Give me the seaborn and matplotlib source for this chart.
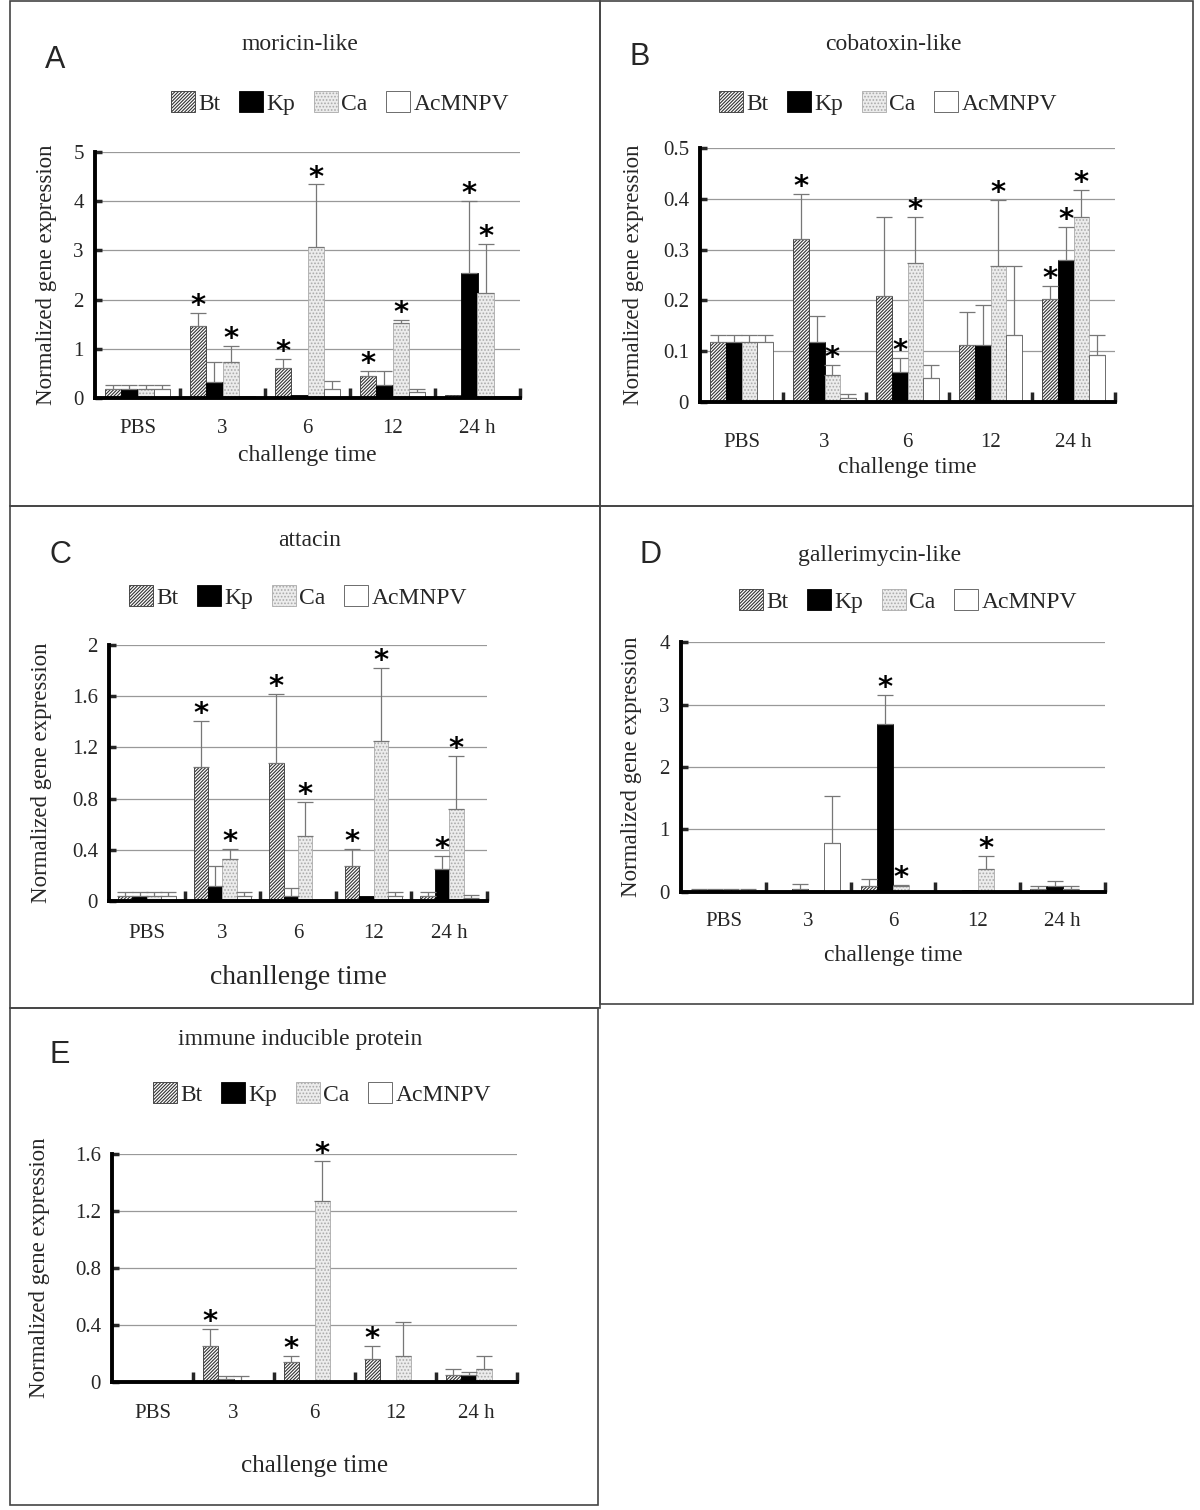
import numpy as np
import pandas as pd
import matplotlib.pyplot as plt
import seaborn as sns
from matplotlib.patches import Patch, Rectangle
from matplotlib.ticker import FuncFormatter

# kategorie i grupy
times = ['PBS', '3', '6', '12', '24 h']
groups = ['Bt', 'Kp', 'Ca', 'AcMNPV']

# A: moricin-like (wiersze: Bt, Kp, Ca, AcMNPV)
moricin_mean = [[0.19, 1.46, 0.60, 0.45, 0.06],
                [0.19, 0.33, 0.06, 0.26, 2.54],
                [0.19, 0.73, 3.06, 1.53, 2.13],
                [0.19, 0.05, 0.19, 0.12, 0.05]]
moricin_sd = [[0.08, 0.27, 0.20, 0.09, 0.0],
              [0.08, 0.40, 0.0, 0.28, 1.46],
              [0.08, 0.33, 1.28, 0.06, 1.01],
              [0.08, 0.0, 0.15, 0.07, 0.0]]
moricin_star = [[0, 1, 1, 1, 0], [0, 0, 0, 0, 1], [0, 1, 1, 1, 1], [0, 0, 0, 0, 0]]

# B: cobatoxin-like
cobatoxin_mean = [[0.118, 0.32, 0.209, 0.112, 0.203],
                  [0.118, 0.119, 0.06, 0.112, 0.28],
                  [0.118, 0.053, 0.274, 0.267, 0.364],
                  [0.118, 0.008, 0.047, 0.131, 0.093]]
cobatoxin_sd = [[0.013, 0.09, 0.155, 0.065, 0.026],
                [0.013, 0.05, 0.026, 0.078, 0.064],
                [0.013, 0.02, 0.09, 0.13, 0.053],
                [0.013, 0.008, 0.026, 0.136, 0.038]]
cobatoxin_star = [[0, 1, 0, 0, 1], [0, 0, 1, 0, 1], [0, 1, 1, 1, 1], [0, 0, 0, 0, 0]]

# C: attacin
attacin_mean = [[0.042, 1.05, 1.077, 0.276, 0.042],
                [0.042, 0.12, 0.042, 0.04, 0.25],
                [0.042, 0.33, 0.51, 1.25, 0.715],
                [0.042, 0.042, 0.01, 0.042, 0.02]]
attacin_sd = [[0.031, 0.36, 0.54, 0.134, 0.031],
              [0.031, 0.156, 0.058, 0.0, 0.105],
              [0.031, 0.08, 0.26, 0.57, 0.415],
              [0.031, 0.031, 0.0, 0.031, 0.027]]
attacin_star = [[0, 1, 1, 1, 0], [0, 0, 0, 0, 1], [0, 1, 1, 1, 1], [0, 0, 0, 0, 0]]

# D: gallerimycin-like
galler_mean = [[0.02, 0.0, 0.1, 0.0, 0.05],
               [0.03, 0.04, 2.69, 0.03, 0.1],
               [0.02, 0.03, 0.1, 0.37, 0.05],
               [0.02, 0.79, 0.0, 0.0, 0.0]]
galler_sd = [[0.02, 0.0, 0.11, 0.0, 0.05],
             [0.01, 0.08, 0.47, 0.0, 0.07],
             [0.02, 0.0, 0.01, 0.21, 0.05],
             [0.02, 0.74, 0.0, 0.0, 0.0]]
galler_star = [[0, 0, 0, 0, 0], [0, 0, 1, 0, 0], [0, 0, 1, 1, 0], [0, 0, 0, 0, 0]]

# E: immune inducible protein
iip_mean = [[0.0, 0.253, 0.14, 0.16, 0.047],
            [0.0, 0.023, 0.0, 0.0, 0.047],
            [0.0, 0.0, 1.27, 0.185, 0.09],
            [0.0, 0.0, 0.0, 0.0, 0.0]]
iip_sd = [[0.0, 0.117, 0.045, 0.09, 0.043],
          [0.0, 0.019, 0.0, 0.0, 0.023],
          [0.0, 0.042, 0.28, 0.235, 0.095],
          [0.0, 0.0, 0.0, 0.0, 0.0]]
iip_star = [[0, 1, 1, 1, 0], [0, 0, 0, 0, 0], [0, 0, 1, 0, 0], [0, 0, 0, 0, 0]]

sns.set_style('white')
plt.rcParams['font.family'] = ['Liberation Serif', 'DejaVu Serif']
plt.rcParams['hatch.linewidth'] = 0.8

W, H = 1200, 1510
fig = plt.figure(figsize=(12, 15.1), dpi=100)

# wygląd słupków
styles = {
    'Bt': dict(facecolor='white', edgecolor='#333333', hatch='//////////'),
    'Kp': dict(facecolor='black', edgecolor='black', hatch=None),
    'Ca': dict(facecolor='#ececec', edgecolor='#aaaaaa', hatch='.....'),
    'AcMNPV': dict(facecolor='white', edgecolor='#555555', hatch=None),
}


def fx(px):
    return px / W


def fy(py):
    return 1 - py / H


def panel(box, means, sds, stars, ymax, ystep, title, letter, title_xy, letter_xy,
          legend_xy, ylab_x, xlab, xlab_y, tick_pad=15, xlab_fs=17):
    x0, y0, x1, y1 = box
    ax = fig.add_axes([fx(x0), fy(y1), fx(x1 - x0), (y1 - y0) / H])
    rows = []
    for g, vals in zip(groups, means):
        for t, v in zip(times, vals):
            rows.append({'time': t, 'group': g, 'value': v})
    df = pd.DataFrame(rows)
    sns.barplot(data=df, x='time', y='value', hue='group', order=times, hue_order=groups,
                errorbar=None, width=0.76, ax=ax, legend=False, linewidth=0.6)
    bar_conts = list(ax.containers)
    for gi, cont in enumerate(bar_conts):
        st = styles[groups[gi]]
        xs = []
        for p in cont:
            p.set_facecolor(st['facecolor'])
            p.set_edgecolor(st['edgecolor'])
            if st['hatch']:
                p.set_hatch(st['hatch'])
            xs.append(p.get_x() + p.get_width() / 2)
        xs = np.array(xs)
        m = np.array(means[gi])
        s = np.array(sds[gi])
        mask = s > 0
        ax.errorbar(xs[mask], m[mask], yerr=[np.zeros(mask.sum()), s[mask]], fmt='none',
                    ecolor='#777777', elinewidth=0.9, capsize=6, capthick=0.9, zorder=1)
        for xi, mi, si, flag in zip(xs, m, s, stars[gi]):
            if flag:
                ax.annotate('*', (xi, mi + si), xytext=(0, 5), textcoords='offset points',
                            ha='center', va='center', fontsize=21, fontweight='bold',
                            fontfamily='DejaVu Sans', color='black')
    ax.set_xlim(-0.5, 4.5)
    ax.set_ylim(0, ymax)
    ax.set_yticks(np.arange(0, ymax + ystep / 2, ystep))
    ax.yaxis.set_major_formatter(FuncFormatter(lambda v, p: '%g' % round(v, 2)))
    ax.yaxis.grid(True, color='#999999', linewidth=0.9)
    ax.set_axisbelow(True)
    ax.set_xticks([0.5, 1.5, 2.5, 3.5, 4.5], minor=True)
    ax.tick_params(axis='x', which='minor', length=7, width=2.5, direction='in', bottom=True)
    ax.tick_params(axis='x', which='major', length=0, labelsize=15, pad=tick_pad)
    ax.tick_params(axis='y', which='major', length=5, width=2.5, direction='in', left=True,
                   labelsize=15, pad=8)
    for side in ['top', 'right']:
        ax.spines[side].set_visible(False)
    for side in ['left', 'bottom']:
        ax.spines[side].set_color('black')
        ax.spines[side].set_linewidth(2.8)
    ax.set_xlabel('')
    ax.set_ylabel('')
    fig.text(fx(ylab_x), fy((y0 + y1) / 2), 'Normalized gene expression', rotation=90,
             ha='center', va='center', fontsize=16.5)
    fig.text(fx((x0 + x1) / 2), fy(xlab_y), xlab, ha='center', va='center', fontsize=xlab_fs)
    fig.text(fx(title_xy[0]), fy(title_xy[1]), title, ha='center', va='center', fontsize=17)
    fig.text(fx(letter_xy[0]), fy(letter_xy[1]), letter, ha='center', va='center',
             fontsize=22, fontfamily='Liberation Sans')
    handles = [Patch(facecolor=styles[g]['facecolor'], edgecolor=styles[g]['edgecolor'],
                     hatch=styles[g]['hatch'], linewidth=0.6) for g in groups]
    fig.legend(handles, groups, loc='center', bbox_to_anchor=(fx(legend_xy[0]), fy(legend_xy[1])),
               ncol=4, frameon=False, fontsize=17, handlelength=1.0, handleheight=1.0,
               handletextpad=0.15, columnspacing=0.8, borderpad=0)
    return ax


panel((95, 152, 520, 398), moricin_mean, moricin_sd, moricin_star, 5, 1,
      'moricin-like', 'A', (300, 45), (55, 60), (340, 103), 47, 'challenge time', 455,
      tick_pad=15)
panel((700, 148, 1115, 402), cobatoxin_mean, cobatoxin_sd, cobatoxin_star, 0.5, 0.1,
      'cobatoxin-like', 'B', (893, 45), (640, 57), (888, 103), 633, 'challenge time', 468,
      tick_pad=22.5)
panel((109, 645, 487, 901), attacin_mean, attacin_sd, attacin_star, 2, 0.4,
      'attacin', 'C', (310, 540), (60, 555), (298, 597), 42, 'chanllenge time', 977,
      tick_pad=16.5, xlab_fs=20)
panel((681, 642, 1105, 892), galler_mean, galler_sd, galler_star, 4, 1,
      'gallerimycin-like', 'D', (880, 555), (650, 555), (908, 601), 632, 'challenge time', 955,
      tick_pad=14.5)
panel((112, 1154, 517, 1382), iip_mean, iip_sd, iip_star, 1.6, 0.4,
      'immune inducible protein', 'E', (300, 1040), (60, 1055), (322, 1094), 40,
      'challenge time', 1466, tick_pad=15.5, xlab_fs=18)

# ramki paneli
for (x0, y0, x1, y1) in [(10, 1, 600, 506), (600, 1, 1193, 506), (10, 506, 600, 1008),
                         (600, 506, 1193, 1004), (10, 1008, 598, 1505)]:
    fig.add_artist(Rectangle((fx(x0), fy(y1)), fx(x1 - x0), (y1 - y0) / H,
                             transform=fig.transFigure, fill=False, edgecolor='#444444',
                             linewidth=1.2))

plt.savefig('out.png', dpi=100, facecolor='white')
